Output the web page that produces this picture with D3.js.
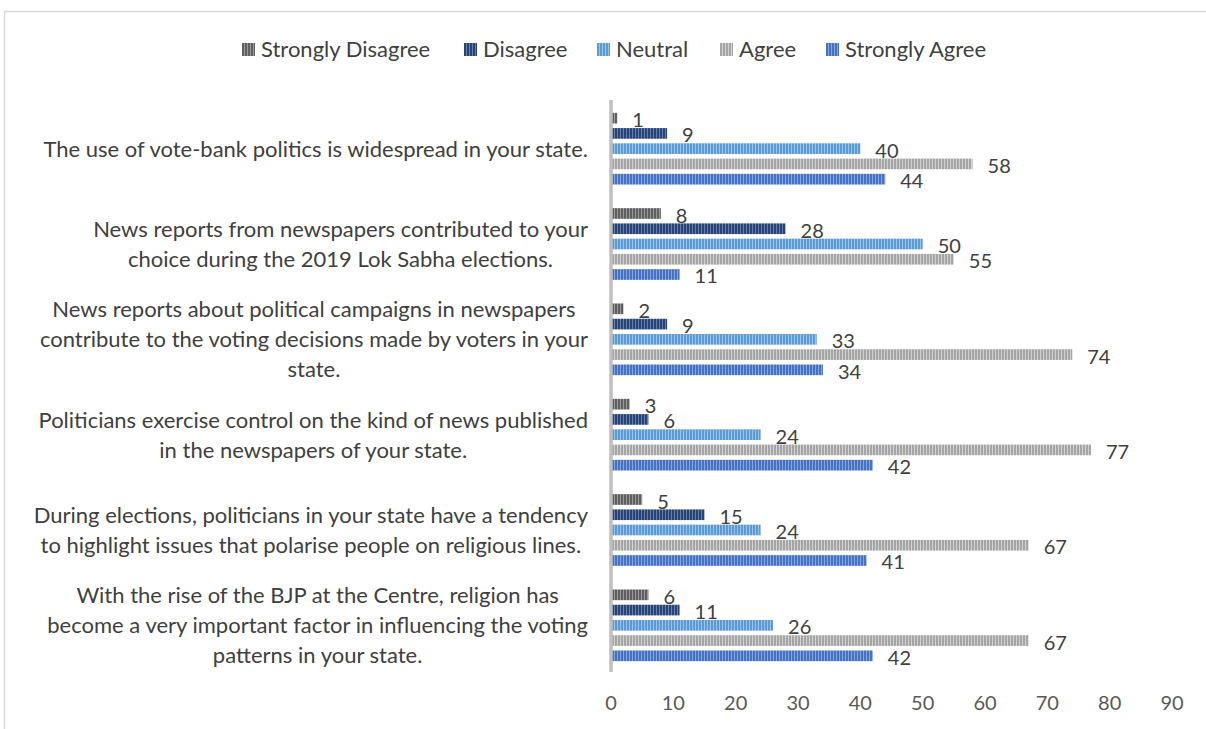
<!DOCTYPE html>
<html>
<head>
<meta charset="utf-8">
<script src="https://cdn.jsdelivr.net/npm/d3@7/dist/d3.min.js"></script>
<style>
	body { margin: 0; background: #fff; }
	text { font-family: Lato, "Open Sans", sans-serif; }
</style>
</head>
<body>
<div id="chart"></div>
<script>

// statements, top to bottom (lines as wrapped in the chart)
var statements = [
	["The use of vote-bank politics is widespread in your state."],
	["News reports from newspapers contributed to your", "choice during the 2019 Lok Sabha elections."],
	["News reports about political campaigns in newspapers", "contribute to the voting decisions made by voters in your", "state."],
	["Politicians exercise control on the kind of news published", "in the newspapers of your state."],
	["During elections, politicians in your state have a tendency", "to highlight issues that polarise people on religious lines."],
	["With the rise of the BJP at the Centre, religion has", "become a very important factor in influencing the voting", "patterns in your state."]
];

var seriesNames = ["Strongly Disagree", "Disagree", "Neutral", "Agree", "Strongly Agree"];

var stronglyDisagree = [1, 8, 2, 3, 5, 6];
var disagree         = [9, 28, 9, 6, 15, 11];
var neutral          = [40, 50, 33, 24, 24, 26];
var agree            = [58, 55, 74, 77, 67, 67];
var stronglyAgree    = [44, 11, 34, 42, 41, 42];

var xTicks = [0, 10, 20, 30, 40, 50, 60, 70, 80, 90];

var colours = ["#5f5f5f", "#264478", "#5b9bd5", "#a5a5a5", "#4472c4"];
var stripes = ["#9a9a9a", "#6a80a8", "#9cc3e8", "#d2d2d2", "#88a4d8"];

var seriesValues = [stronglyDisagree, disagree, neutral, agree, stronglyAgree];

var width = 1206, height = 729;

var svg = d3.select("#chart")
	.append("svg")
	.attr("width", width)
	.attr("height", height);

// chart border
svg.append("rect")
	.attr("x", 4.5)
	.attr("y", 11.5)
	.attr("width", width + 10)
	.attr("height", height + 10)
	.attr("fill", "#fff")
	.attr("stroke", "#d9d9d9")
	.attr("stroke-width", 1.5);

// vertical stripe patterns
var defs = svg.append("defs");
colours.forEach(function(c, i) {
	var p = defs.append("pattern")
		.attr("id", "pat" + i)
		.attr("patternUnits", "userSpaceOnUse")
		.attr("width", 3)
		.attr("height", 10);
	p.append("rect").attr("width", 3).attr("height", 10).attr("fill", c);
	p.append("rect").attr("x", 2).attr("width", 1).attr("height", 10).attr("fill", stripes[i]);
});

var x = d3.scaleLinear()
	.domain([0, 90])
	.range([611, 1172]);

var y0 = d3.scaleBand()
	.domain(d3.range(statements.length))
	.range([101, 673])
	.paddingInner(0.2)
	.paddingOuter(0.1);

var y1 = d3.scaleBand()
	.domain(d3.range(seriesNames.length))
	.range([0, y0.bandwidth()])
	.paddingInner(0.3)
	.paddingOuter(0.15);

// bars
var groups = svg.append("g").selectAll("g")
	.data(statements)
	.enter().append("g")
	.attr("transform", function(d, i) { return "translate(0," + y0(i) + ")"; });

groups.each(function(d, gi) {
	var g = d3.select(this);
	seriesValues.forEach(function(vals, si) {
		var v = vals[gi];
		g.append("rect")
			.attr("x", x(0))
			.attr("y", y1(si))
			.attr("width", x(v) - x(0))
			.attr("height", y1.bandwidth())
			.attr("fill", "url(#pat" + si + ")");
		g.append("text")
			.attr("x", x(v) + 15)
			.attr("y", y1(si) + y1.bandwidth() / 2 + 9)
			.attr("font-size", 20)
			.attr("fill", "#404040")
			.text(v);
	});
});

// axis line
svg.append("line")
	.attr("x1", x(0))
	.attr("x2", x(0))
	.attr("y1", 100)
	.attr("y2", 672)
	.attr("stroke", "#bfbfbf")
	.attr("stroke-width", 3.5);

// x tick labels
svg.append("g").selectAll("text")
	.data(xTicks)
	.enter().append("text")
	.attr("x", function(d) { return x(d); })
	.attr("y", 710)
	.attr("text-anchor", "middle")
	.attr("font-size", 20)
	.attr("fill", "#595959")
	.text(function(d) { return d; });

// category labels, centred block, right edge at 588
var lineH = 30;
statements.forEach(function(lines, i) {
	var cy = y0(i) + y0.bandwidth() / 2;
	var t = svg.append("text")
		.attr("font-size", 22)
		.attr("fill", "#404040")
		.attr("text-anchor", "middle");
	var spans = lines.map(function(l, k) {
		return t.append("tspan")
			.attr("y", cy + (k - (lines.length - 1) / 2) * lineH + 8)
			.text(l);
	});
	var maxW = d3.max(spans, function(s) { return s.node().getComputedTextLength(); });
	spans.forEach(function(s) { s.attr("x", 588 - maxW / 2); });
});

// legend
var legendX = [242, 464, 597, 720, 826];
var legend = svg.append("g").selectAll("g")
	.data(seriesNames)
	.enter().append("g")
	.attr("transform", function(d, i) { return "translate(" + legendX[i] + ",43)"; });

legend.append("rect")
	.attr("width", 13)
	.attr("height", 13)
	.attr("fill", function(d, i) { return "url(#pat" + i + ")"; });

legend.append("text")
	.attr("x", 19)
	.attr("y", 14)
	.attr("font-size", 22)
	.attr("fill", "#404040")
	.text(function(d) { return d; });

</script>
</body>
</html>
